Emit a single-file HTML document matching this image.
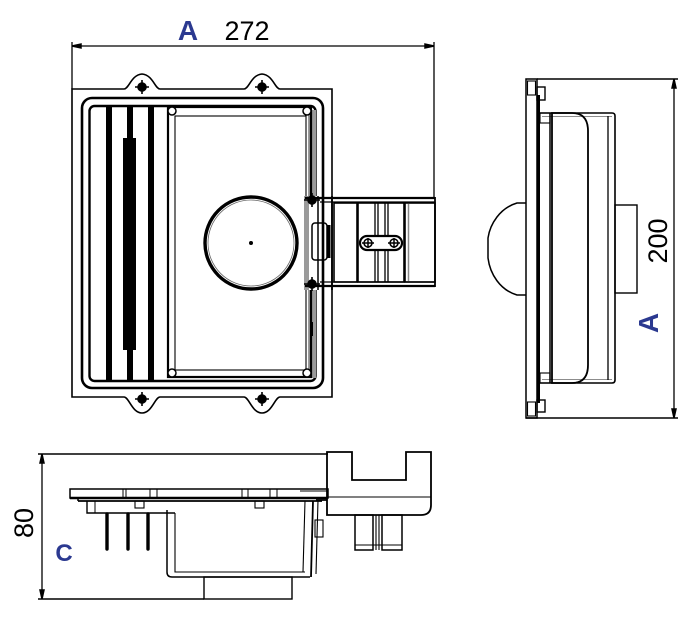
<!DOCTYPE html>
<html><head><meta charset="utf-8"><style>
html,body{margin:0;padding:0;background:#fff;}
svg{display:block;}
text{font-family:"Liberation Sans",Arial,sans-serif;}
</style></head><body>
<svg width="700" height="628" viewBox="0 0 700 628" xmlns="http://www.w3.org/2000/svg">
<!-- TEXT -->
<text x="188" y="40" font-size="28" font-weight="bold" fill="#2b3990" text-anchor="middle">A</text>
<text x="247" y="40" font-size="27" fill="#000" text-anchor="middle">272</text>
<text transform="translate(648,323) rotate(-90)" x="0" y="10" font-size="28" font-weight="bold" fill="#2b3990" text-anchor="middle">A</text>
<text transform="translate(657,241) rotate(-90)" x="0" y="10" font-size="27" fill="#000" text-anchor="middle">200</text>
<text transform="translate(23,523) rotate(-90)" x="0" y="10" font-size="27" fill="#000" text-anchor="middle">80</text>
<text x="64" y="561" font-size="24" font-weight="bold" fill="#2b3990" text-anchor="middle">C</text>

<g fill="none" stroke="#000" stroke-width="1.5">
<!-- ===== TOP VIEW ===== -->
<line x1="72" y1="46" x2="434" y2="46" stroke-width="1.3"/>
<line x1="72" y1="42" x2="72" y2="89" stroke-width="1.3"/>
<line x1="434" y1="42" x2="434" y2="199" stroke-width="1.3"/>
<path d="M72,46 l9,-2 v4z M434,46 l-9,-2 v4z" fill="#000"/>

<path d="M72,89 H124 C129,89 131,75 142,74 C153,75 155,89 160,89 H244 C249,89 251,75 262,74 C273,75 275,89 280,89 H332 V397 H280 C275,397 272,413 262,413 C252,413 249,397 244,397 H160 C155,397 152,413 142,413 C132,413 129,397 124,397 H72 Z" stroke-width="1.6"/>

<rect x="82" y="98" width="241" height="290" rx="10" stroke-width="2.6"/>
<rect x="89.5" y="106" width="226" height="275" rx="5" stroke-width="2.4"/>

<!-- bars -->
<rect x="106" y="106" width="6" height="275" fill="#000" stroke="none"/>
<rect x="127" y="106" width="6" height="275" fill="#000" stroke="none"/>
<rect x="123" y="138" width="13" height="212" fill="#000" stroke="none"/>
<rect x="148" y="106" width="6" height="275" fill="#000" stroke="none"/>

<!-- panel -->
<rect x="308" y="110" width="8" height="268" fill="#9a9a9a" stroke="none"/>
<rect x="168" y="107" width="143" height="270" stroke-width="2.2"/>
<rect x="175" y="116" width="131" height="254" stroke-width="1.1"/>
<circle cx="172" cy="111" r="4" fill="#fff"/>
<circle cx="307" cy="111" r="4" fill="#fff"/>
<circle cx="172" cy="373" r="4" fill="#fff"/>
<circle cx="307" cy="373" r="4" fill="#fff"/>
<rect x="310" y="322" width="3" height="14" fill="#000" stroke="none"/>

<!-- round window -->
<circle cx="251" cy="243" r="46" stroke-width="3.4"/>
<circle cx="251" cy="243" r="43" stroke-width="0.8" stroke="#666"/>
<circle cx="251" cy="243" r="2" fill="#000" stroke="none"/>

<!-- screws -->
<g stroke-width="1.6">
<circle cx="142" cy="87" r="4" fill="#000"/><path d="M135,87 h14 M142,80 v14"/>
<circle cx="262" cy="87" r="4" fill="#000"/><path d="M255,87 h14 M262,80 v14"/>
<circle cx="142" cy="399" r="4" fill="#000"/><path d="M135,399 h14 M142,392 v14"/>
<circle cx="262" cy="399" r="4" fill="#000"/><path d="M255,399 h14 M262,392 v14"/>
</g>

<!-- bracket -->
<rect x="304" y="196" width="14" height="94" fill="#fff" stroke="none"/>
<rect x="304" y="196" width="5" height="94" fill="#9a9a9a" stroke="none"/>
<line x1="305" y1="198" x2="435" y2="198" stroke-width="2.2"/>
<line x1="320" y1="202" x2="435" y2="202" stroke-width="1.2"/>
<line x1="305" y1="286" x2="435" y2="286" stroke-width="2.2"/>
<line x1="320" y1="282" x2="435" y2="282" stroke-width="1.2"/>
<line x1="435" y1="197" x2="435" y2="287" stroke-width="1.8"/>
<line x1="318" y1="196" x2="318" y2="290"/>
<line x1="332" y1="196" x2="332" y2="290" stroke-width="1.8"/>
<g stroke-width="1.6">
<circle cx="312" cy="200" r="4" fill="#000"/><path d="M304,200 h16 M312,193 v14"/>
<circle cx="312" cy="284" r="4" fill="#000"/><path d="M304,284 h16 M312,277 v14"/>
</g>
<rect x="312" y="223" width="15" height="37" rx="3" stroke-width="1.5"/>
<line x1="329" y1="225" x2="329" y2="258" stroke-width="3"/>
<rect x="334" y="203" width="23" height="79" stroke-width="1.6"/>
<rect x="358" y="203" width="46" height="79" stroke-width="1.6"/>
<path d="M375,203 v79 M378,203 v79 M385,203 v79 M388,203 v79" stroke-width="1.3"/>
<rect x="360" y="236" width="42" height="14" rx="7" fill="#fff" stroke-width="2.2"/>
<circle cx="368" cy="243" r="4" fill="#fff"/><path d="M362,243 h12 M368,238 v10"/>
<circle cx="394" cy="243" r="4" fill="#fff"/><path d="M388,243 h12 M394,238 v10"/>
<rect x="405" y="203" width="30" height="79" stroke-width="1.6"/>
<line x1="408.5" y1="204" x2="408.5" y2="281" stroke="#888" stroke-width="1.5"/>

<!-- ===== SIDE VIEW ===== -->
<line x1="674" y1="79" x2="674" y2="418" stroke-width="1.3"/>
<line x1="537" y1="79" x2="678" y2="79" stroke-width="1.4"/>
<line x1="526" y1="418" x2="678" y2="418" stroke-width="1.4"/>
<path d="M674,79 l-2,9 h4z M674,418 l-2,-9 h4z" fill="#000"/>

<rect x="526" y="79" width="11" height="339" stroke-width="1.5"/>
<line x1="538.5" y1="95" x2="538.5" y2="403" stroke-width="3"/>
<rect x="527.5" y="81" width="8" height="14" stroke-width="1.1"/>
<rect x="527.5" y="402" width="8" height="14" stroke-width="1.1"/>
<rect x="537" y="87" width="8" height="13" stroke-width="1.4"/>
<rect x="537" y="400" width="8" height="12" stroke-width="1.4"/>

<path d="M540,113 H612 Q615,113 615,116 V380 Q615,383 612,383 H540" stroke-width="1.6"/>
<line x1="542" y1="116.5" x2="612" y2="116.5" stroke-width="0.8" stroke="#666"/>
<line x1="542" y1="379.5" x2="612" y2="379.5" stroke-width="0.8" stroke="#666"/>
<line x1="550" y1="113" x2="550" y2="383"/>
<path d="M552,113 H572 Q588,113 588,131 V365 Q588,383 572,383 H552 Z" stroke-width="1.8"/>
<line x1="608" y1="116" x2="608" y2="380" stroke-width="1.3"/>
<rect x="540" y="113" width="10" height="10" stroke-width="1.1"/>
<rect x="540" y="373" width="10" height="10" stroke-width="1.1"/>

<path d="M526,203 H517 C500,208 490,224 488,238 V258 C490,274 500,290 517,295 H526" stroke-width="1.5"/>
<rect x="615" y="205" width="22" height="88" stroke-width="1.4"/>

<!-- ===== BOTTOM VIEW ===== -->
<line x1="42" y1="454" x2="42" y2="599" stroke-width="1.3"/>
<line x1="38" y1="454" x2="328" y2="454" stroke-width="1.4"/>
<line x1="38" y1="599" x2="204" y2="599" stroke-width="1.4"/>
<path d="M42,454 l-2,9 h4z M42,599 l-2,-9 h4z" fill="#000"/>

<rect x="70" y="489" width="258" height="9" stroke-width="1.5"/>
<line x1="70" y1="498" x2="328" y2="498" stroke-width="2.6"/>
<path d="M123,489 v9 M126,489 v9 M150,489 v9 M157,489 v9 M242,489 v9 M248,489 v9 M270,489 v9 M277,489 v9" stroke-width="1"/>
<line x1="78" y1="501" x2="322" y2="501" stroke-width="1.7"/>
<line x1="78" y1="498" x2="78" y2="501"/>
<rect x="135" y="501" width="9" height="7" stroke-width="1.1"/>
<rect x="255" y="501" width="9" height="7" stroke-width="1.1"/>
<path d="M87,501 V513 H175" stroke-width="1.4"/>
<line x1="95" y1="501" x2="95" y2="513" stroke-width="1"/>
<g stroke-width="3.4" stroke-linecap="round">
<line x1="107" y1="514" x2="107" y2="549"/>
<line x1="128" y1="514" x2="128" y2="549"/>
<line x1="148" y1="514" x2="148" y2="549"/>
</g>
<path d="M167,510 V572 Q167,577 172,577 H310" stroke-width="1.5"/>
<path d="M175,513 V572 H305" stroke-width="1.1"/>
<path d="M305,501 L303,572" stroke-width="1.1"/>
<path d="M313,501 L311,577" stroke-width="1.8"/>
<path d="M318,500 L316,574" stroke-width="1.1"/>
<rect x="204" y="577" width="88" height="22" stroke-width="1.4"/>

<path d="M316,500 H327 V452 H352 V480 H406 V452 H431 V505 Q431,515 421,515 H327 V500" stroke-width="1.8"/>
<line x1="327" y1="497" x2="431" y2="497" stroke-width="1.1"/>
<line x1="327" y1="491" x2="300" y2="491" stroke-width="1.1"/>
<rect x="315" y="520" width="8" height="17" stroke-width="1.1"/>
<rect x="355" y="515" width="18" height="35" stroke-width="1.5"/>
<rect x="382" y="515" width="20" height="35" stroke-width="1.5"/>
<path d="M376,515 v35 M379,515 v35" stroke-width="1.1"/>
<path d="M355,545 h47" stroke-width="1.1"/>
</g>
</svg>
</body></html>
